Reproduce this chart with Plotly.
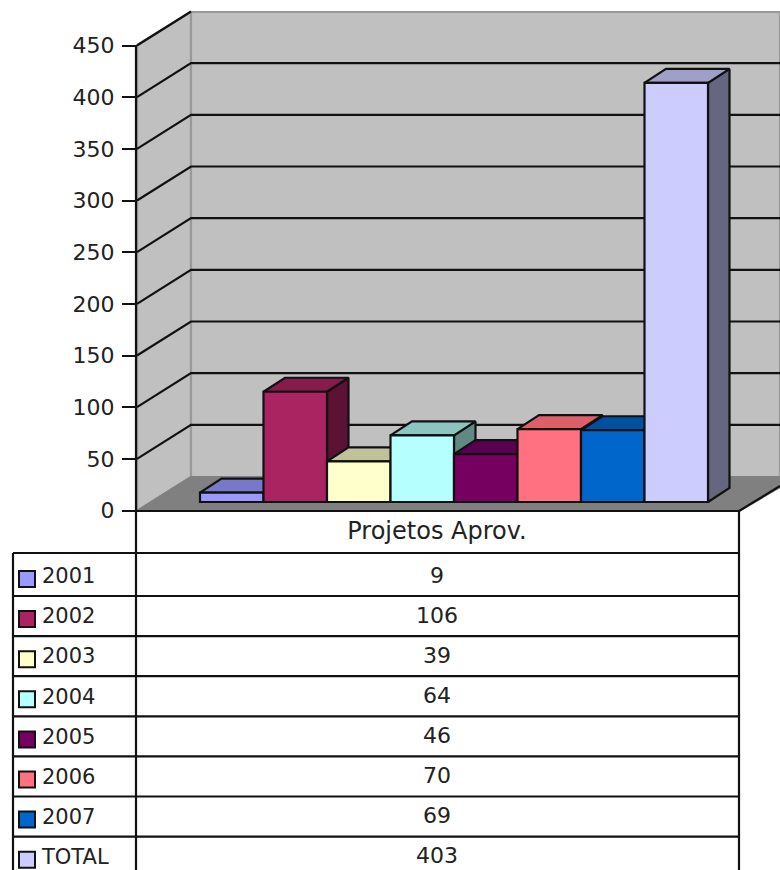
import plotly.graph_objects as go

# dados
categorias = ['2001', '2002', '2003', '2004', '2005', '2006', '2007', 'TOTAL']
projetos = [9, 106, 39, 64, 46, 70, 69, 403]
cores = ['#9999ff', '#aa2462', '#ffffcc', '#b6ffff', '#760060', '#ff7080', '#0066cc', '#ccccff']
cores_topo = ['#7878c8', '#861c4c', '#c2c29a', '#8cc4c0', '#5b0050', '#dd5f68', '#0050a0', '#a09fc8']
cores_lado = ['#5a5a90', '#5c1235', '#88886c', '#628886', '#3e0033', '#a04850', '#003870', '#666680']
ticks_y = [0, 50, 100, 150, 200, 250, 300, 350, 400, 450]
cabecalho = 'Projetos Aprov.'

W, H = 780, 870
FONTE = 'DejaVu Sans'

# escala das barras (pixels)
X0_BARRA, LARG_BARRA = 231.75, 63.5
BASE_BARRA, PX_BARRA = 502, 1.04
PROF_X, PROF_Y = 21.5 / LARG_BARRA, 14 / PX_BARRA
# escala do eixo de valores
BASE_EIXO, PX_EIXO = 510.5, 1.0333
PAREDE_X, PAREDE_Y = 191, 34 / PX_EIXO

fig = go.Figure()


def poligono(xs, ys, cor, eixo_x='x', eixo_y='y', borda=None, largura=2.2):
    fig.add_trace(go.Scatter(
        x=xs, y=ys, mode='lines', fill='toself', fillcolor=cor,
        line=dict(color=borda or cor, width=largura),
        xaxis=eixo_x, yaxis=eixo_y, hoverinfo='skip', showlegend=False
    ))


def linha(xs, ys, cor='#111111', largura=2.2, eixo_y='y'):
    fig.add_trace(go.Scatter(
        x=xs, y=ys, mode='lines', line=dict(color=cor, width=largura),
        xaxis='x', yaxis=eixo_y, hoverinfo='skip', showlegend=False
    ))


# paredes e chao
poligono([137, 191, 191, 137, 137], [45, 12, 477, 511, 45], '#c0c0c0', borda='#999999')
poligono([191, 780, 780, 191, 191], [12, 12, 477, 477, 12], '#c0c0c0', borda='#999999')
poligono([137, 191, 780, 780, 739, 137], [511, 477, 477, 487, 511, 511], '#808080')

# linhas de grade nas paredes; a de 450 fica so na parede lateral
for t in ticks_y[1:-1]:
    linha([137, PAREDE_X, W], [t, t + PAREDE_Y, t + PAREDE_Y], eixo_y='y2')
linha([137, PAREDE_X], [ticks_y[-1], ticks_y[-1] + PAREDE_Y], eixo_y='y2')

# tabela
linhas_tabela = [596 + 40.1 * i for i in range(7)]
linha([122, 739], [511, 511])
linha([136, 136], [45, H])
linha([739, 739], [511, H])
linha([13, 13], [553, H])
linha([13, 739], [553, 553])
for yl in linhas_tabela:
    linha([13, 739], [yl, yl])
linha([739, 780], [511, 486])

centros = [576 + 40.1 * i for i in range(len(categorias))]
fig.add_trace(go.Scatter(
    x=[27] * len(categorias), y=[c + 3 for c in centros], mode='markers',
    marker=dict(symbol='square', size=16, color=cores, line=dict(color='#111111', width=2)),
    xaxis='x', yaxis='y', hoverinfo='skip', showlegend=False
))
fig.add_trace(go.Scatter(
    x=[42] * len(categorias), y=[c + 2 for c in centros], mode='text', text=categorias,
    textposition='middle right', textfont=dict(family=FONTE, size=21, color='#222222'),
    xaxis='x', yaxis='y', hoverinfo='skip', showlegend=False
))
fig.add_trace(go.Scatter(
    x=[437] * len(projetos), y=[c + 1 for c in centros], mode='text',
    text=[str(v) for v in projetos],
    textposition='middle center', textfont=dict(family=FONTE, size=22, color='#222222'),
    xaxis='x', yaxis='y', hoverinfo='skip', showlegend=False
))
fig.add_trace(go.Scatter(
    x=[437], y=[533], mode='text', text=[cabecalho],
    textposition='middle center', textfont=dict(family=FONTE, size=24, color='#222222'),
    xaxis='x', yaxis='y', hoverinfo='skip', showlegend=False
))

# faces de topo e lateral, da esquerda para a direita
for i, v in enumerate(projetos):
    e, d = i - 0.5, i + 0.5
    poligono([d, d + PROF_X, d + PROF_X, d, d], [0, PROF_Y, v + PROF_Y, v, 0],
             cores_lado[i], 'x2', 'y3', '#111111')
    poligono([e, e + PROF_X, d + PROF_X, d, e], [v, v + PROF_Y, v + PROF_Y, v, v],
             cores_topo[i], 'x2', 'y3', '#111111')

# faces da frente
fig.add_trace(go.Bar(
    x=list(range(len(projetos))), y=projetos, width=1,
    marker=dict(color=cores, line=dict(color='#111111', width=2.2)),
    xaxis='x2', yaxis='y4', hoverinfo='skip', showlegend=False
))

eixo_oculto = dict(visible=False, showgrid=False, zeroline=False)
faixa_barra = [(BASE_BARRA - H) / PX_BARRA, BASE_BARRA / PX_BARRA]

fig.update_layout(
    width=W, height=H,
    margin=dict(l=0, r=0, t=0, b=0),
    paper_bgcolor='white', plot_bgcolor='white',
    showlegend=False, hovermode=False,
    xaxis=dict(range=[0, W], domain=[0, 1], **eixo_oculto),
    yaxis=dict(range=[H, 0], domain=[0, 1], **eixo_oculto),
    xaxis2=dict(
        range=[-X0_BARRA / LARG_BARRA, (W - X0_BARRA) / LARG_BARRA],
        overlaying='x', **eixo_oculto
    ),
    yaxis2=dict(
        range=[(BASE_EIXO - H) / PX_EIXO, BASE_EIXO / PX_EIXO],
        overlaying='y', anchor='free', position=136 / W, side='left',
        showgrid=False, zeroline=False, showline=False,
        tickmode='array', tickvals=ticks_y, ticks='outside', ticklen=14,
        tickwidth=2, tickcolor='#111111', ticklabelstandoff=3,
        tickfont=dict(family=FONTE, size=22, color='#222222')
    ),
    yaxis3=dict(range=faixa_barra, overlaying='y', **eixo_oculto),
    yaxis4=dict(range=faixa_barra, overlaying='y', **eixo_oculto),
)

# o body tem margem de 8px por padrao
fig.write_html("out.html", config={'displayModeBar': False},
               post_script="document.body.style.margin='0';")
